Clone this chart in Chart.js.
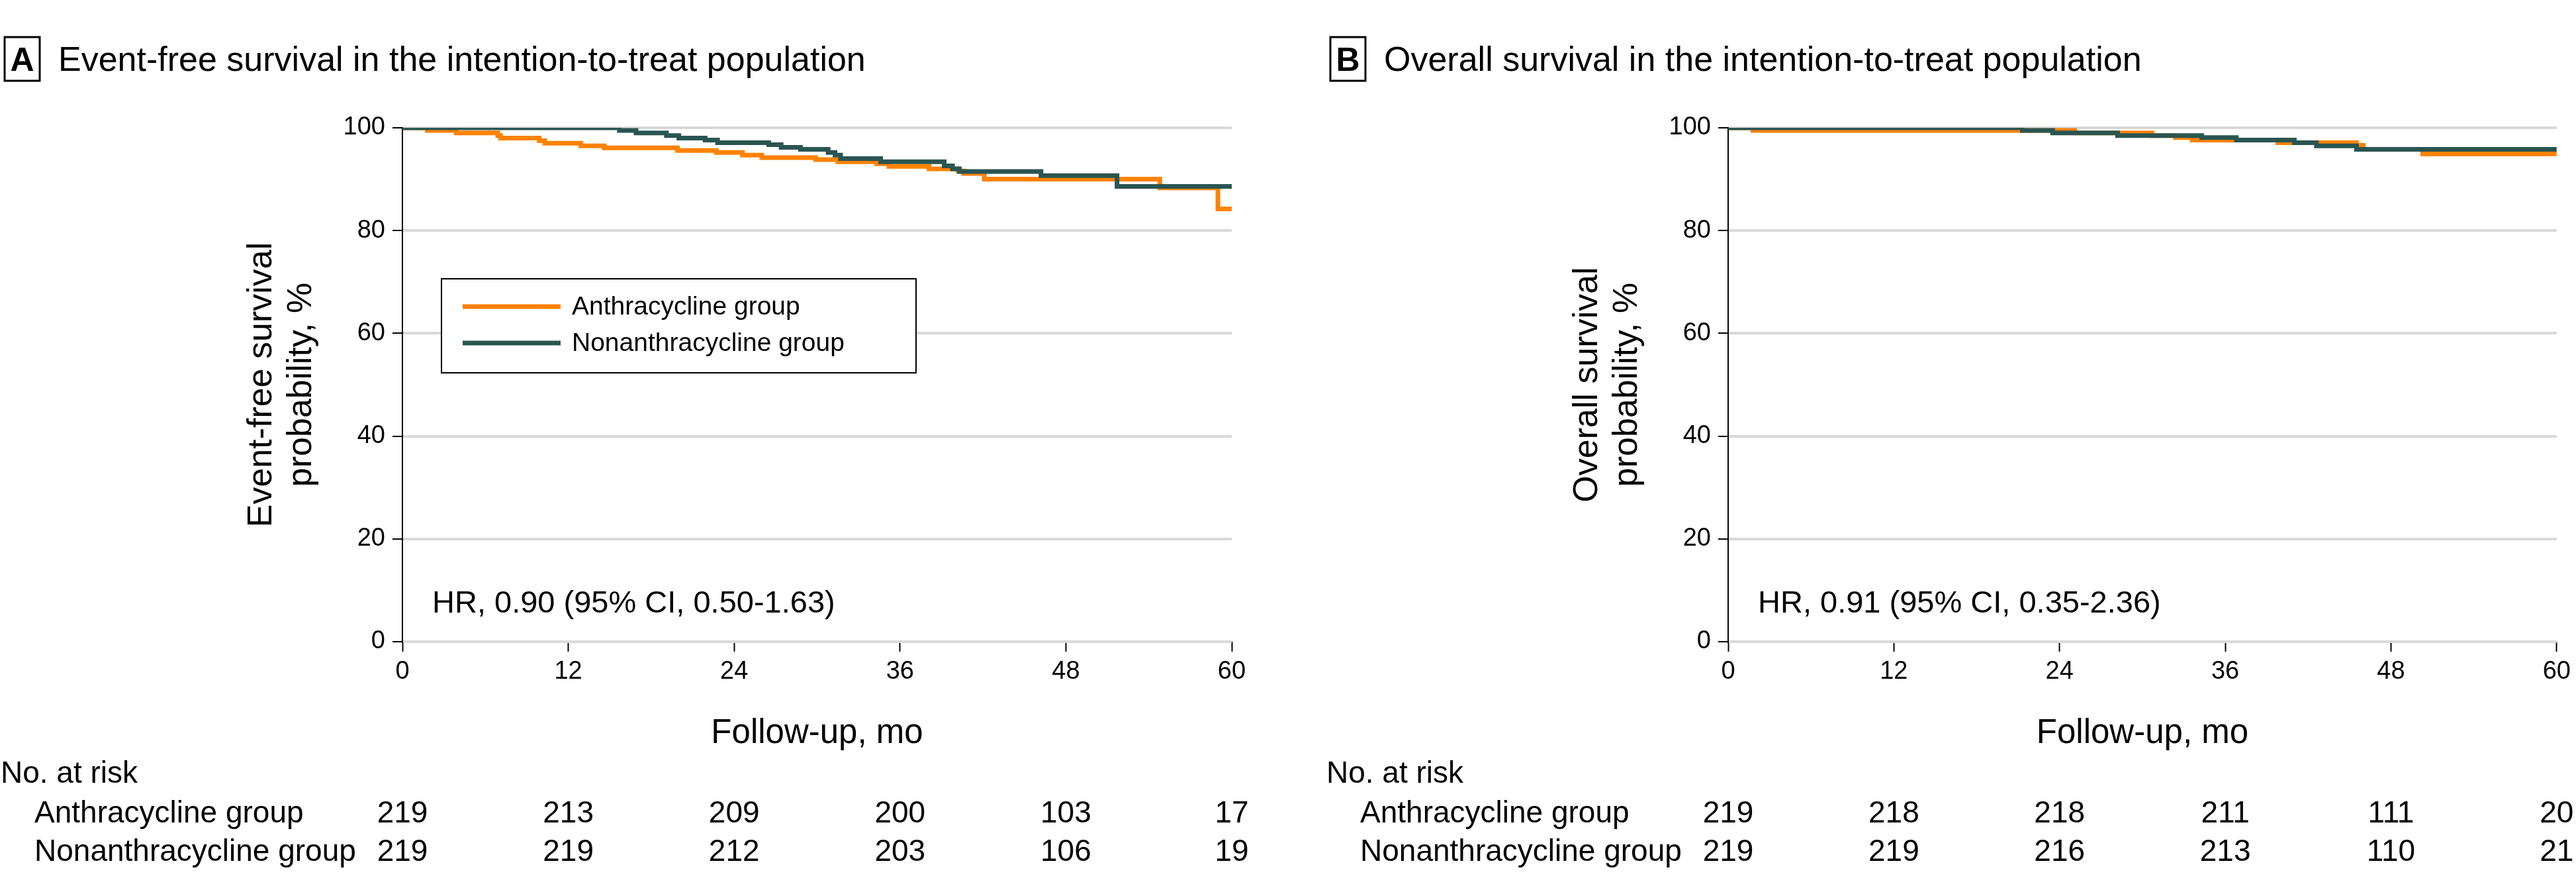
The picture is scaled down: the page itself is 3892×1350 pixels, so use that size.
<!DOCTYPE html>
<html>
<head>
<meta charset="utf-8">
<script src="https://cdn.jsdelivr.net/npm/chart.js@4.4.1/dist/chart.umd.min.js"></script>
<style>
  html, body { margin: 0; padding: 0; background: #fff; }
  body { width: 3892px; height: 1350px; position: relative; overflow: hidden; }
  canvas { position: absolute; top: 0; }
</style>
</head>
<body>
<canvas id="chartA" width="2003" height="1350" style="left:0;width:2003px;height:1350px"></canvas>
<canvas id="chartB" width="1889" height="1350" style="left:2003px;width:1889px;height:1350px"></canvas>
<script>
// ---------- Data ----------
const tickMonths = [0, 12, 24, 36, 48, 60];
const yTicks = [0, 20, 40, 60, 80, 100];
const groupNames = ["Anthracycline group", "Nonanthracycline group"];

// Panel A: event-free survival (Kaplan-Meier steps: month, survival %)
const efsAnthMonths = [0, 1.8, 3.9, 6.9, 7.1, 9.9, 10.3, 12.9, 14.6, 19.9, 22.7, 24.6, 26.0, 29.9, 31.5, 34.3, 35.2, 38.1, 40.2, 40.6, 42.1, 54.8, 59.0, 60];
const efsAnthSurv   = [100, 99.5, 99.0, 98.5, 98.0, 97.5, 97.0, 96.5, 96.1, 95.6, 95.2, 94.7, 94.2, 93.8, 93.4, 93.0, 92.5, 92.0, 91.6, 91.1, 90.0, 88.3, 84.2, 84.2];
const efsNonMonths  = [0, 15.7, 16.9, 19.1, 20.0, 21.9, 22.8, 26.5, 27.4, 28.8, 30.8, 31.3, 31.7, 34.6, 39.2, 39.8, 40.3, 46.2, 51.7, 60];
const efsNonSurv    = [100, 99.5, 99.0, 98.5, 98.0, 97.6, 97.1, 96.7, 96.2, 95.8, 95.2, 94.7, 94.0, 93.4, 92.6, 92.0, 91.5, 90.7, 88.6, 88.6];

// Panel B: overall survival
const osAnthMonths = [0, 1.8, 25.1, 30.7, 32.4, 33.6, 39.8, 45.5, 46.0, 50.3, 60];
const osAnthSurv   = [100, 99.5, 99.0, 98.5, 98.1, 97.6, 97.1, 96.6, 95.8, 94.9, 94.9];
const osNonMonths  = [0, 21.3, 23.5, 28.2, 34.3, 36.8, 41.0, 42.6, 45.5, 60];
const osNonSurv    = [100, 99.5, 99.0, 98.5, 98.1, 97.6, 97.1, 96.5, 95.8, 95.8];

// Numbers at risk
const efsAtRiskAnth = [219, 213, 209, 200, 103, 17];
const efsAtRiskNon  = [219, 219, 212, 203, 106, 19];
const osAtRiskAnth  = [219, 218, 218, 211, 111, 20];
const osAtRiskNon   = [219, 219, 216, 213, 110, 21];

const ORANGE = '#ff8200';
const GREEN = '#2a5551';
const FONT = '"Liberation Sans", Arial, sans-serif';

function toPoints(months, surv) { return months.map((m, i) => ({ x: m, y: surv[i] })); }

// ---------- Decoration plugin (titles, legend, HR, risk table) ----------
const decor = {
  id: 'decor',
  afterDraw(chart, args, o) {
    const ctx = chart.ctx, ca = chart.chartArea, xs = chart.scales.x;
    ctx.save();
    ctx.fillStyle = '#000';
    ctx.strokeStyle = '#000';
    ctx.textBaseline = 'alphabetic';

    // panel letter box + title
    ctx.lineWidth = 3;
    ctx.strokeRect(7, 56, 53, 66);
    ctx.font = 'bold 50px ' + FONT;
    ctx.textAlign = 'center';
    ctx.fillText(o.letter, 33.5, 107);
    ctx.font = '52px ' + FONT;
    ctx.textAlign = 'left';
    ctx.fillText(o.title, 88, 107);

    // y-axis title (two lines, rotated)
    const cy = (ca.top + ca.bottom) / 2;
    ctx.save();
    ctx.translate(410, cy);
    ctx.rotate(-Math.PI / 2);
    ctx.textAlign = 'center';
    ctx.font = '52px ' + FONT;
    ctx.fillText(o.yTitle[0], 0, 0);
    ctx.fillText(o.yTitle[1], 0, 60);
    ctx.restore();

    // x-axis title
    ctx.textAlign = 'center';
    ctx.font = '51px ' + FONT;
    ctx.fillText('Follow-up, mo', (ca.left + ca.right) / 2, 1122);

    // HR text
    ctx.textAlign = 'left';
    ctx.font = '47px ' + FONT;
    ctx.fillText(o.hr, ca.left + 45, 925);

    // legend
    if (o.legend) {
      ctx.fillStyle = '#fff';
      ctx.fillRect(667, 421, 717, 142);
      ctx.lineWidth = 2;
      ctx.strokeRect(667, 421, 717, 142);
      const rows = [[ORANGE, groupNames[0], 463], [GREEN, groupNames[1], 518]];
      ctx.font = '39px ' + FONT;
      ctx.textBaseline = 'middle';
      rows.forEach(r => {
        ctx.fillStyle = r[0];
        ctx.fillRect(699, r[2] - 3.5, 148, 7);
        ctx.fillStyle = '#000';
        ctx.fillText(r[1], 864, r[2] + 1);
      });
      ctx.textBaseline = 'alphabetic';
    }

    // numbers at risk table
    ctx.fillStyle = '#000';
    ctx.font = '46px ' + FONT;
    ctx.textAlign = 'left';
    ctx.fillText('No. at risk', 1, 1182);
    ctx.fillText(groupNames[0], 52, 1242);
    ctx.fillText(groupNames[1], 52, 1300);
    ctx.textAlign = 'center';
    tickMonths.forEach((m, i) => {
      const px = xs.getPixelForValue(m);
      ctx.fillText(String(o.riskAnth[i]), px, 1242);
      ctx.fillText(String(o.riskNon[i]), px, 1300);
    });
    ctx.restore();
  }
};

function makeChart(id, rightPad, cfg) {
  return new Chart(document.getElementById(id), {
    type: 'line',
    data: {
      datasets: [
        { label: groupNames[0], data: toPoints(cfg.anthM, cfg.anthS), borderColor: ORANGE, order: 1 },
        { label: groupNames[1], data: toPoints(cfg.nonM, cfg.nonS), borderColor: GREEN, order: 0 }
      ]
    },
    options: {
      responsive: false,
      animation: false,
      devicePixelRatio: 1,
      layout: { padding: { left: 0, right: rightPad, top: 193, bottom: 0 } },
      elements: {
        point: { radius: 0, hoverRadius: 0 },
        line: { stepped: 'before', borderWidth: 7, tension: 0, borderJoinStyle: 'miter', borderCapStyle: 'butt', fill: false }
      },
      plugins: {
        legend: { display: false },
        tooltip: { enabled: false },
        decor: cfg.decor
      },
      scales: {
        x: {
          type: 'linear', min: 0, max: 60,
          afterBuildTicks: (s) => { s.ticks = tickMonths.map(v => ({ value: v })); },
          afterFit: (s) => { s.height = 381; },
          border: { display: false },
          grid: { display: true, drawOnChartArea: false, drawTicks: true, tickLength: 15, tickColor: '#000', tickWidth: 2 },
          ticks: { color: '#000', font: { family: FONT, size: 38 }, padding: 8, maxRotation: 0, autoSkip: false }
        },
        y: {
          type: 'linear', min: 0, max: 100,
          afterBuildTicks: (s) => { s.ticks = yTicks.map(v => ({ value: v })); },
          afterFit: (s) => { s.width = 608; },
          border: { display: true, color: '#000', width: 2 },
          grid: { color: '#d9d9d9', lineWidth: 4, drawTicks: true, tickLength: 15, tickColor: '#000', tickWidth: 2 },
          ticks: { color: '#000', font: { family: FONT, size: 38 }, padding: 11 }
        }
      }
    },
    plugins: [decor]
  });
}

makeChart('chartA', 142, {
  anthM: efsAnthMonths, anthS: efsAnthSurv, nonM: efsNonMonths, nonS: efsNonSurv,
  decor: {
    letter: 'A', title: 'Event-free survival in the intention-to-treat population',
    yTitle: ['Event-free survival', 'probability, %'],
    hr: 'HR, 0.90 (95% CI, 0.50-1.63)', legend: true,
    riskAnth: efsAtRiskAnth, riskNon: efsAtRiskNon
  }
});
makeChart('chartB', 28, {
  anthM: osAnthMonths, anthS: osAnthSurv, nonM: osNonMonths, nonS: osNonSurv,
  decor: {
    letter: 'B', title: 'Overall survival in the intention-to-treat population',
    yTitle: ['Overall survival', 'probability, %'],
    hr: 'HR, 0.91 (95% CI, 0.35-2.36)', legend: false,
    riskAnth: osAtRiskAnth, riskNon: osAtRiskNon
  }
});
</script>
</body>
</html>
